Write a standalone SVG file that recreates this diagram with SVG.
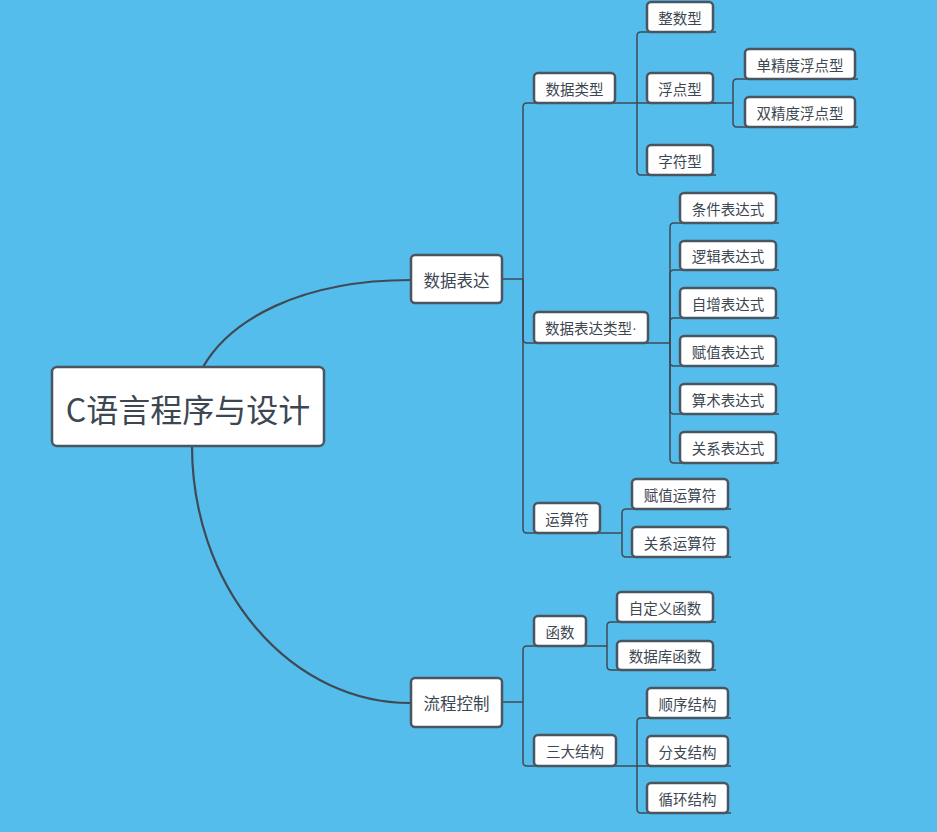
<svg xmlns="http://www.w3.org/2000/svg" width="937" height="832" viewBox="0 0 937 832">
<style>
.bg{fill:#55bdec}
.n rect{fill:#ffffff;stroke:#4a5560;stroke-width:2.5}
.n text{font-family:"Noto Sans CJK SC","Microsoft YaHei",sans-serif;fill:#3d4752;text-anchor:middle;dominant-baseline:central}
.s text{font-size:14.5px}
.m text{font-size:16.5px}
.r text{font-size:32px}
.dot{font-family:"Liberation Sans",sans-serif}
#connectors path{fill:none;stroke:#3f4a55;stroke-width:1.5}
#connectors path.main{stroke-width:2.2}
</style>
<rect class="bg" x="0" y="0" width="937" height="832"/>
<g id="connectors">
<path class="main" d="M203,367 C230,320 300,280 411,280"/>
<path class="main" d="M192,446 A218,257 0 0 0 410,703"/>
<path d="M502,279 L523,279"/>
<path d="M523,279 L523,107 Q523,103 527,103 L637,103"/>
<path d="M523,279 L523,339 Q523,343 527,343 L670,343"/>
<path d="M523,279 L523,529 Q523,533 527,533 L622,533"/>
<path d="M637,103 L637,36 Q637,32 641,32 L716,32"/>
<path d="M637,103 L716,103"/>
<path d="M637,103 L637,171 Q637,175 641,175 L716,175"/>
<path d="M713,103 L733,103"/>
<path d="M733,103 L733,83 Q733,79 737,79 L858,79"/>
<path d="M733,103 L733,123 Q733,127 737,127 L858,127"/>
<path d="M670,343 L670,227 Q670,223 674,223 L779,223"/>
<path d="M670,343 L670,274 Q670,270 674,270 L779,270"/>
<path d="M670,343 L670,322 Q670,318 674,318 L779,318"/>
<path d="M670,343 L670,362 Q670,366 674,366 L779,366"/>
<path d="M670,343 L670,410 Q670,414 674,414 L779,414"/>
<path d="M670,343 L670,459 Q670,463 674,463 L779,463"/>
<path d="M622,533 L622,513 Q622,509 626,509 L731,509"/>
<path d="M622,533 L622,553 Q622,557 626,557 L731,557"/>
<path d="M502,702 L523,702"/>
<path d="M523,702 L523,650 Q523,646 527,646 L607,646"/>
<path d="M523,702 L523,762 Q523,766 527,766 L637,766"/>
<path d="M607,646 L607,626 Q607,622 611,622 L716,622"/>
<path d="M607,646 L607,666 Q607,670 611,670 L716,670"/>
<path d="M637,766 L637,722 Q637,718 641,718 L731,718"/>
<path d="M637,766 L731,766"/>
<path d="M637,766 L637,809 Q637,813 641,813 L731,813"/>
</g>
<g id="root" class="n r"><rect x="52" y="367" width="272" height="79" rx="5"/><text x="188" y="408">C语言程序与设计</text></g>
<g id="n-sjbd" class="n m"><rect x="411" y="255" width="91" height="48" rx="4"/><text x="456.5" y="280">数据表达</text></g>
<g id="n-lckz" class="n m"><rect x="411" y="678" width="91" height="49" rx="4"/><text x="456.5" y="703">流程控制</text></g>
<g id="n-sjlx" class="n s"><rect x="534" y="73" width="81" height="30" rx="4"/><text x="574.5" y="88">数据类型</text></g>
<g id="n-zsx" class="n s"><rect x="647" y="2" width="66" height="30" rx="4"/><text x="680" y="17">整数型</text></g>
<g id="n-fdx" class="n s"><rect x="647" y="73" width="66" height="30" rx="4"/><text x="680" y="88">浮点型</text></g>
<g id="n-zfx" class="n s"><rect x="647" y="145" width="66" height="30" rx="4"/><text x="680" y="160">字符型</text></g>
<g id="n-dj" class="n s"><rect x="745" y="49" width="110" height="30" rx="4"/><text x="800" y="64">单精度浮点型</text></g>
<g id="n-sj" class="n s"><rect x="745" y="97" width="110" height="30" rx="4"/><text x="800" y="112">双精度浮点型</text></g>
<g id="n-bdslx" class="n s"><rect x="534" y="312" width="114" height="31" rx="4"/><text x="591" y="327.5">数据表达类型<tspan class="dot">·</tspan></text></g>
<g id="n-tj" class="n s"><rect x="680" y="193" width="96" height="30" rx="4"/><text x="728" y="208">条件表达式</text></g>
<g id="n-lj" class="n s"><rect x="680" y="241" width="96" height="29" rx="4"/><text x="728" y="255.5">逻辑表达式</text></g>
<g id="n-zz" class="n s"><rect x="680" y="288" width="96" height="30" rx="4"/><text x="728" y="303">自增表达式</text></g>
<g id="n-fz" class="n s"><rect x="680" y="336" width="96" height="30" rx="4"/><text x="728" y="351">赋值表达式</text></g>
<g id="n-ss" class="n s"><rect x="680" y="384" width="96" height="30" rx="4"/><text x="728" y="399">算术表达式</text></g>
<g id="n-gx" class="n s"><rect x="680" y="432" width="96" height="31" rx="4"/><text x="728" y="447.5">关系表达式</text></g>
<g id="n-ysf" class="n s"><rect x="534" y="503" width="66" height="30" rx="4"/><text x="567" y="518">运算符</text></g>
<g id="n-fzysf" class="n s"><rect x="632" y="479" width="96" height="30" rx="4"/><text x="680" y="494">赋值运算符</text></g>
<g id="n-gxysf" class="n s"><rect x="632" y="527" width="96" height="30" rx="4"/><text x="680" y="542">关系运算符</text></g>
<g id="n-hs" class="n s"><rect x="534" y="616" width="52" height="30" rx="4"/><text x="560" y="631">函数</text></g>
<g id="n-zdy" class="n s"><rect x="617" y="592" width="96" height="30" rx="4"/><text x="665" y="607">自定义函数</text></g>
<g id="n-sjk" class="n s"><rect x="617" y="641" width="96" height="29" rx="4"/><text x="665" y="655.5">数据库函数</text></g>
<g id="n-sdjg" class="n s"><rect x="534" y="735" width="82" height="31" rx="4"/><text x="575" y="750.5">三大结构</text></g>
<g id="n-sx" class="n s"><rect x="647" y="688" width="81" height="30" rx="4"/><text x="687.5" y="703">顺序结构</text></g>
<g id="n-fzjg" class="n s"><rect x="647" y="736" width="81" height="30" rx="4"/><text x="687.5" y="751">分支结构</text></g>
<g id="n-xh" class="n s"><rect x="647" y="783" width="81" height="30" rx="4"/><text x="687.5" y="798">循环结构</text></g>
</svg>
